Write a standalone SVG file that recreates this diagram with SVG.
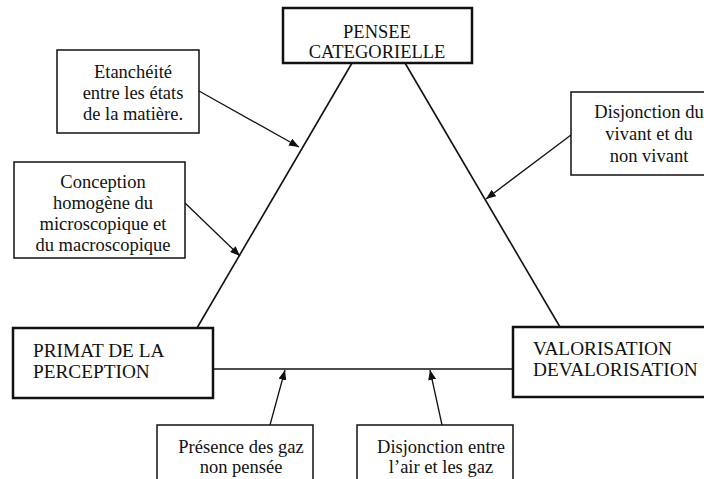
<svg xmlns="http://www.w3.org/2000/svg" width="704" height="479" viewBox="0 0 704 479">
<defs>
<style>
text{font-family:"Liberation Serif","Times New Roman",serif;font-size:18.5px;fill:#111}
.c{text-anchor:middle}
.big{font-size:19.3px}
.main{fill:#fff;stroke:#111;stroke-width:2.5}
.note{fill:#fff;stroke:#111;stroke-width:1.5}
.ln{stroke:#111;stroke-width:1.6;fill:none}
.ar{stroke:#111;stroke-width:1.3;fill:none;marker-end:url(#ah)}
</style>
<marker id="ah" viewBox="0 0 10 8" refX="10" refY="4" markerWidth="10" markerHeight="8" markerUnits="userSpaceOnUse" orient="auto">
<path d="M0,0 L10,4 L0,8 z" fill="#111"/>
</marker>
</defs>
<rect width="704" height="479" fill="#fff"/>
<g id="connectors">
<line class="ln" x1="352" y1="63" x2="197" y2="328"/>
<line class="ln" x1="405" y1="63" x2="560" y2="327"/>
<line class="ln" x1="213" y1="369" x2="513" y2="369"/>
<line class="ar" x1="199" y1="91" x2="299" y2="147"/>
<line class="ar" x1="185" y1="203" x2="240" y2="256"/>
<line class="ar" x1="571" y1="135" x2="486" y2="199"/>
<line class="ar" x1="270" y1="425" x2="285" y2="370"/>
<line class="ar" x1="442" y1="425" x2="430" y2="370"/>
</g>
<g id="pensee">
<rect class="main" x="283" y="8" width="189" height="55"/>
<text class="c" x="377" y="38">PENSEE</text>
<text class="c" x="377" y="58">CATEGORIELLE</text>
</g>
<g id="primat">
<rect class="main" x="13" y="328" width="200" height="70"/>
<text class="big" x="33" y="357">PRIMAT DE LA</text>
<text class="big" x="33" y="378">PERCEPTION</text>
</g>
<g id="valorisation">
<rect class="main" x="513" y="327" width="210" height="70"/>
<text class="big" x="533" y="355">VALORISATION</text>
<text class="big" x="533" y="376">DEVALORISATION</text>
</g>
<g id="etancheite">
<rect class="note" x="57" y="50" width="142" height="83"/>
<text class="c" x="133" y="78">Etanchéité</text>
<text class="c" x="133" y="99">entre les états</text>
<text class="c" x="133" y="120">de la matière.</text>
</g>
<g id="conception">
<rect class="note" x="14" y="162" width="171" height="96"/>
<text class="c" x="103" y="188">Conception</text>
<text class="c" x="103" y="209">homogène du</text>
<text class="c" x="103" y="230">microscopique et</text>
<text class="c" x="103" y="251">du macroscopique</text>
</g>
<g id="disjonction-vivant">
<rect class="note" x="571" y="92" width="160" height="83"/>
<text class="c" x="649" y="118">Disjonction du</text>
<text class="c" x="649" y="140">vivant et du</text>
<text class="c" x="649" y="162">non vivant</text>
</g>
<g id="presence">
<rect class="note" x="157" y="425" width="156" height="70"/>
<text class="c" x="241" y="453">Présence des gaz</text>
<text class="c" x="241" y="473">non pensée</text>
</g>
<g id="disjonction-air">
<rect class="note" x="357" y="425" width="156" height="70"/>
<text class="c" x="441" y="453">Disjonction entre</text>
<text class="c" x="441" y="473">l’air et les gaz</text>
</g>
</svg>
